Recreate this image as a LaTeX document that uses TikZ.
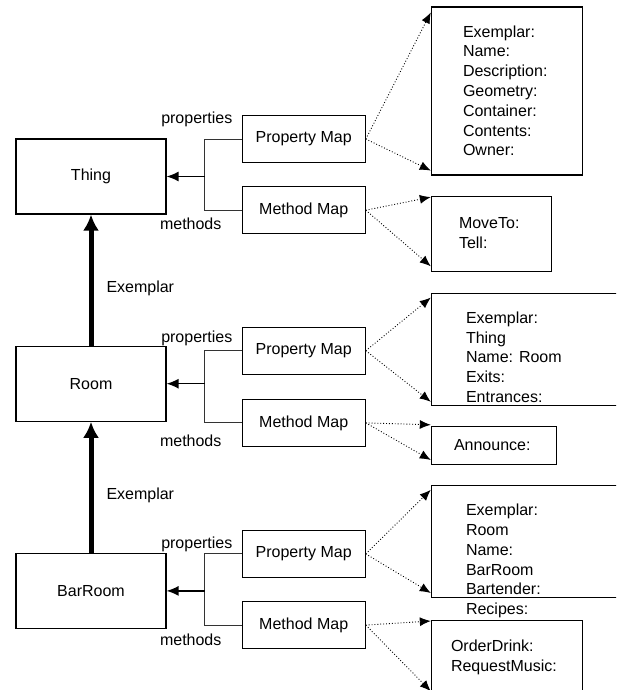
\documentclass[tikz,border=0pt]{standalone}
\usepackage{fontspec}
\setmainfont{Liberation Sans}
\usetikzlibrary{positioning,arrows.meta}

\begin{document}
\begin{tikzpicture}[font=\fontsize{16pt}{19.8pt}\selectfont,
  >={Latex[length=11pt,width=9pt]},
  classbox/.style={rectangle,draw,line width=1.2pt,minimum width=150pt,minimum height=75pt},
  mapbox/.style={rectangle,draw,line width=1.2pt,minimum width=123pt,minimum height=47pt},
  slotbox/.style={rectangle,draw,line width=1.2pt},
  slottext/.style={align=left,inner sep=0pt},
  lbl/.style={inner sep=0pt},
  exemplar/.style={->,line width=5pt,>={Latex[length=16pt,width=16pt]}},
  bracket/.style={line width=0.9pt,black!80},
  dotline/.style={dotted,line width=0.9pt}]
 \useasboundingbox (0,0) rectangle (616pt,-690pt);
 \clip (0,0) rectangle (616pt,-690pt);

 \node[classbox] (thing) at (91pt,-176.5pt) {Thing};
 \node[classbox] (room) [below=131pt of thing] {Room};
 \node[classbox] (barroom) [below=131pt of room] {BarRoom};

 \node[mapbox] (propmap1) [right=75pt of thing,yshift=37.5pt] {Property Map};
 \node[mapbox] (methmap1) [below=23pt of propmap1] {Method Map};
 \node[mapbox] (propmap2) [right=75pt of room,yshift=33pt] {Property Map};
 \node[mapbox] (methmap2) [below=24pt of propmap2] {Method Map};
 \node[mapbox] (propmap3) [right=75pt of barroom,yshift=37pt] {Property Map};
 \node[mapbox] (methmap3) [below=23pt of propmap3] {Method Map};

 \node[lbl] (proplabel1) [left=9pt of propmap1.west,yshift=20pt] {properties};
 \node[lbl] (methlabel1) [left=20pt of methmap1.west,yshift=-13.5pt] {methods};
 \node[lbl] (proplabel2) [left=9pt of propmap2.west,yshift=12.5pt] {properties};
 \node[lbl] (methlabel2) [left=20pt of methmap2.west,yshift=-17.5pt] {methods};
 \node[lbl] (proplabel3) [left=9pt of propmap3.west,yshift=9.5pt] {properties};
 \node[lbl] (methlabel3) [left=20pt of methmap3.west,yshift=-14.5pt] {methods};

 \coordinate[right=38pt of thing] (joint1);
 \coordinate[right=38pt of room] (joint2);
 \coordinate[right=38pt of barroom] (joint3);

 % slot boxes on the right
 \node[slotbox,minimum width=151pt,minimum height=168pt] (slots1) [right=65pt of propmap1,yshift=48pt] {};
 \node[slotbox,minimum width=120pt,minimum height=75pt] (calls1) [right=65pt of methmap1,yshift=-24pt] {};
 \node[slotbox,minimum width=220pt,minimum height=112pt] (slots2) [right=65pt of propmap2,yshift=1.5pt] {};
 \node[slotbox,minimum width=125pt,minimum height=38pt] (calls2) [right=65pt of methmap2,yshift=-22.5pt] {};
 \node[slotbox,minimum width=220pt,minimum height=112pt] (slots3) [right=65pt of propmap3,yshift=12.5pt] {};
 \node[slotbox,minimum width=151pt,minimum height=76pt] (calls3) [right=65pt of methmap3,yshift=-33.5pt] {};

 \node[slottext] (slots1text) [below right=19pt and 32pt of slots1.north west] {Exemplar:\\Name:\\Description:\\Geometry:\\Container:\\Contents:\\Owner:};
 \node[slottext] (calls1text) [below right=21pt and 28pt of calls1.north west] {MoveTo:\\Tell:};
 \node[slottext] (slots2text) [below right=19pt and 35pt of slots2.north west] {Exemplar:\\Thing\\Name: Room\\Exits:\\Entrances:};
 \node[slottext] (calls2text) [below right=13pt and 23pt of calls2.north west] {Announce:};
 \node[slottext] (slots3text) [below right=19pt and 35pt of slots3.north west] {Exemplar:\\Room\\Name:\\BarRoom\\Bartender:\\Recipes:};
 \node[slottext] (calls3text) [below right=20pt and 20pt of calls3.north west] {OrderDrink:\\RequestMusic:};

\path[draw] (room) edge [exemplar] node[lbl,right=13pt,yshift=-8pt] (exemplar1) {Exemplar} (thing);
\path[draw] (barroom) edge [exemplar] node[lbl,right=13pt,yshift=-8pt] (exemplar2) {Exemplar} (room);

\path[draw,bracket] (propmap1.west) -| (joint1) |- (methmap1.west);
\path[draw,bracket] (propmap2.west) -| (joint2) |- (methmap2.west);
\path[draw,bracket] (propmap3.west) -| (joint3) |- (methmap3.west);
\path[draw,line width=1.3pt] (joint1) edge [->,>={Latex[length=12pt,width=10pt]}] (thing);
\path[draw,line width=1.3pt] (joint2) edge [->,>={Latex[length=12pt,width=10pt]}] (room);
\path[draw,line width=1.3pt] (joint3) edge [->,>={Latex[length=12pt,width=10pt]}] (barroom);

\path[draw,dotline] (propmap1.east) edge [->] ([yshift=-6pt]slots1.north west);
\path[draw,dotline] (propmap1.east) edge [->] ([yshift=5pt]slots1.south west);
\path[draw,dotline] (methmap1.east) edge [->] ([yshift=-1pt]calls1.north west);
\path[draw,dotline] (methmap1.east) edge [->] ([yshift=6pt]calls1.south west);
\path[draw,dotline] (propmap2.east) edge [->] ([yshift=-5pt]slots2.north west);
\path[draw,dotline] (propmap2.east) edge [->] ([yshift=4pt]slots2.south west);
\path[draw,dotline] (methmap2.east) edge [->] ([yshift=1pt]calls2.north west);
\path[draw,dotline] (methmap2.east) edge [->] ([yshift=5pt]calls2.south west);
\path[draw,dotline] (propmap3.east) edge [->] ([yshift=-5pt]slots3.north west);
\path[draw,dotline] (propmap3.east) edge [->] ([yshift=5pt]slots3.south west);
\path[draw,dotline] (methmap3.east) edge [->] ([yshift=-1pt]calls3.north west);
\path[draw,dotline] (methmap3.east) edge [->] ([yshift=6pt]calls3.south west);
\end{tikzpicture}
\end{document}
